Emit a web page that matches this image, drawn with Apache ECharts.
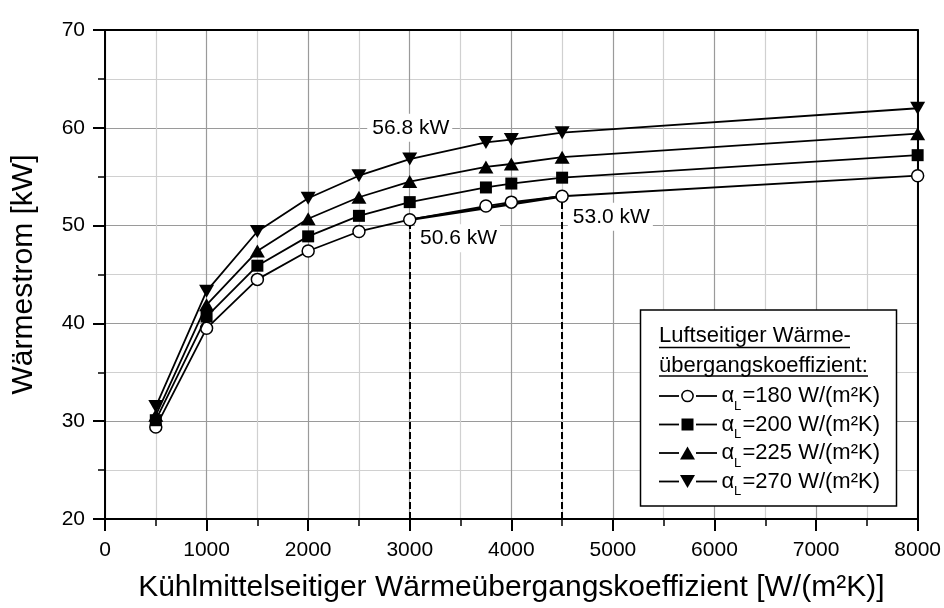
<!DOCTYPE html>
<html>
<head>
<meta charset="utf-8">
<script src="https://cdn.jsdelivr.net/npm/echarts@6/dist/echarts.min.js"></script>
<style>html,body{margin:0;padding:0;background:#fff}#c{width:944px;height:608px}</style>
</head>
<body>
<div id="c"></div>
<script>
// ---- data ----
const xValues = [500, 1000, 1500, 2000, 2500, 3000, 3750, 4000, 4500, 8000];
const alpha180 = [29.4, 39.5, 44.5, 47.4, 49.4, 50.6, 52.0, 52.4, 53.0, 55.1];
const alpha200 = [30.1, 40.7, 45.9, 48.9, 51.0, 52.4, 53.9, 54.3, 54.9, 57.2];
const alpha225 = [30.6, 41.9, 47.4, 50.7, 52.9, 54.5, 56.0, 56.3, 57.0, 59.4];
const alpha270 = [31.5, 43.3, 49.4, 52.8, 55.1, 56.8, 58.5, 58.8, 59.5, 62.0];
const seriesNames = ['=180 W/(m²K)', '=200 W/(m²K)', '=225 W/(m²K)', '=270 W/(m²K)'];
const legendTitle = ['Luftseitiger Wärme-', 'übergangskoeffizient:'];
const xTitle = 'Kühlmittelseitiger Wärmeübergangskoeffizient [W/(m²K)]';
const yTitle = 'Wärmestrom [kW]';
const annotations = [
  {coord: [3000, 60], text: '56.8 kW'},
  {coord: [3470, 48.7], text: '50.6 kW'},
  {coord: [4975, 50.9], text: '53.0 kW'}
];
const dropLines = [[3000, 50.6], [4500, 53.0]];
const arrowLine = [[3000, 50.6], [4445, 52.91]];

const FONT = '"Liberation Sans", Arial, Helvetica, sans-serif';
const chart = echarts.init(document.getElementById('c'), null, {renderer: 'canvas'});

function zip(ys) { return xValues.map((x, i) => [x, ys[i]]); }

const markerDefs = [
  {symbol: 'circle', size: 12, rotate: 0, fill: '#fff'},
  {symbol: 'rect', size: 12, rotate: 0, fill: '#000'},
  {symbol: 'triangle', size: [15, 13], rotate: 0, fill: '#000'},
  {symbol: 'triangle', size: [15, 13], rotate: 180, fill: '#000'}
];
const allData = [alpha180, alpha200, alpha225, alpha270];

const series = allData.map((ys, i) => ({
  type: 'line',
  name: seriesNames[i],
  data: zip(ys),
  symbol: markerDefs[i].symbol,
  symbolSize: markerDefs[i].size,
  symbolRotate: markerDefs[i].rotate,
  showAllSymbol: true,
  lineStyle: {color: '#000', width: 1.8},
  itemStyle: {color: markerDefs[i].fill, borderColor: '#000', borderWidth: i === 0 ? 1.5 : 0},
  z: 5 + i,
  silent: true,
  animation: false
}));

series.push({
  type: 'line',
  data: [],
  silent: true,
  animation: false,
  markLine: {
    silent: true,
    animation: false,
    symbol: ['none', 'none'],
    label: {show: false},
    lineStyle: {color: '#000', width: 2, type: [7, 3]},
    data: dropLines.map(p => [{coord: [p[0], 20]}, {coord: [p[0], p[1]]}])
  },
  markPoint: {
    silent: true,
    animation: false,
    symbol: 'rect',
    symbolSize: 0,
    data: annotations.map(a => ({coord: a.coord, value: a.text})),
    label: {
      show: true,
      position: 'inside',
      formatter: p => p.value,
      color: '#000',
      fontSize: 21,
      fontFamily: FONT,
      backgroundColor: '#fff',
      padding: [4, 3, 3, 5]
    }
  },
  z: 3
});
series.push({
  type: 'line',
  data: [],
  silent: true,
  animation: false,
  markLine: {
    silent: true,
    animation: false,
    symbol: ['none', 'arrow'],
    symbolSize: [0, 11],
    label: {show: false},
    lineStyle: {color: '#000', width: 2.6, type: 'solid'},
    data: [[{coord: arrowLine[0]}, {coord: arrowLine[1]}]]
  },
  z: 9
});

// legend drawn as graphic
const LX = 640.5, LY = 310, LW = 256, LH = 196;
const LF = '22px ' + FONT;
const g = [];
g.push({type: 'rect', shape: {x: LX, y: LY, width: LW, height: LH}, style: {fill: '#fff', stroke: '#000', lineWidth: 1.5}, z: 100});
const titleY = [336, 365.5];
const underlineY = [347.5, 376];
const underlineEnd = [850, 868];
legendTitle.forEach((t, i) => {
  g.push({type: 'text', x: 659, y: titleY[i], style: {text: t, fill: '#000', font: LF, textVerticalAlign: 'middle', verticalAlign: 'middle'}, z: 101});
  g.push({type: 'line', shape: {x1: 659, y1: underlineY[i], x2: underlineEnd[i], y2: underlineY[i]}, style: {stroke: '#000', lineWidth: 1.3}, z: 101});
});
const rowY = [396, 424.5, 453, 481.5];
rowY.forEach((y, i) => {
  g.push({type: 'line', shape: {x1: 659, y1: y, x2: 679, y2: y}, style: {stroke: '#000', lineWidth: 1.8}, z: 101});
  g.push({type: 'line', shape: {x1: 696, y1: y, x2: 717, y2: y}, style: {stroke: '#000', lineWidth: 1.8}, z: 101});
  const cx = 687.5;
  if (i === 0) {
    g.push({type: 'circle', shape: {cx: cx, cy: y, r: 5.6}, style: {fill: '#fff', stroke: '#000', lineWidth: 1.5}, z: 102});
  } else if (i === 1) {
    g.push({type: 'rect', shape: {x: cx - 6, y: y - 6, width: 12, height: 12}, style: {fill: '#000'}, z: 102});
  } else if (i === 2) {
    g.push({type: 'polygon', shape: {points: [[cx, y - 6.5], [cx + 7.5, y + 6.5], [cx - 7.5, y + 6.5]]}, style: {fill: '#000'}, z: 102});
  } else {
    g.push({type: 'polygon', shape: {points: [[cx, y + 6.5], [cx + 7.5, y - 6.5], [cx - 7.5, y - 6.5]]}, style: {fill: '#000'}, z: 102});
  }
  g.push({type: 'text', x: 721.5, y: y, style: {text: 'α', fill: '#000', font: LF, textVerticalAlign: 'middle', verticalAlign: 'middle'}, z: 101});
  g.push({type: 'text', x: 734, y: y + 10, style: {text: 'L', fill: '#000', font: '13px ' + FONT, textVerticalAlign: 'middle', verticalAlign: 'middle'}, z: 101});
  g.push({type: 'text', x: 742.5, y: y, style: {text: seriesNames[i], fill: '#000', font: LF, textVerticalAlign: 'middle', verticalAlign: 'middle'}, z: 101});
});

const option = {
  animation: false,
  backgroundColor: '#fff',
  textStyle: {fontFamily: FONT},
  grid: {left: 105, right: 26, top: 30, bottom: 85, containLabel: false},
  xAxis: [{
    type: 'value', min: 0, max: 8000, interval: 1000,
    name: xTitle, nameLocation: 'middle', nameGap: 54,
    nameTextStyle: {fontSize: 30, color: '#000', fontFamily: FONT},
    axisLine: {show: true, onZero: false, lineStyle: {color: '#000', width: 2}},
    axisTick: {show: true, inside: false, length: 12, lineStyle: {color: '#000', width: 2}},
    minorTick: {show: true, splitNumber: 2, length: 7, lineStyle: {color: '#000', width: 1.5}},
    axisLabel: {fontSize: 21, color: '#000', margin: 21, fontFamily: FONT, formatter: v => String(v)},
    splitLine: {show: true, lineStyle: {color: '#9a9a9a', width: 1.2}},
    minorSplitLine: {show: true, lineStyle: {color: '#d0d0d0', width: 1.2}}
  }, {
    type: 'value', position: 'top', min: 0, max: 8000,
    axisLine: {show: true, onZero: false, lineStyle: {color: '#000', width: 2}},
    axisTick: {show: false}, axisLabel: {show: false}, splitLine: {show: false}
  }],
  yAxis: [{
    type: 'value', min: 20, max: 70, interval: 10,
    name: yTitle, nameLocation: 'middle', nameGap: 66, nameRotate: 90,
    nameTextStyle: {fontSize: 30, color: '#000', fontFamily: FONT},
    axisLine: {show: true, onZero: false, lineStyle: {color: '#000', width: 2}},
    axisTick: {show: true, inside: false, length: 12, lineStyle: {color: '#000', width: 2}},
    minorTick: {show: true, splitNumber: 2, length: 7, lineStyle: {color: '#000', width: 1.5}},
    axisLabel: {fontSize: 21, color: '#000', margin: 20, fontFamily: FONT},
    splitLine: {show: true, lineStyle: {color: '#9a9a9a', width: 1.2}},
    minorSplitLine: {show: true, lineStyle: {color: '#d0d0d0', width: 1.2}}
  }, {
    type: 'value', position: 'right', min: 20, max: 70,
    axisLine: {show: true, onZero: false, lineStyle: {color: '#000', width: 2}},
    axisTick: {show: false}, axisLabel: {show: false}, splitLine: {show: false}
  }],
  series: series,
  graphic: g
};
chart.setOption(option);
</script>
</body>
</html>
